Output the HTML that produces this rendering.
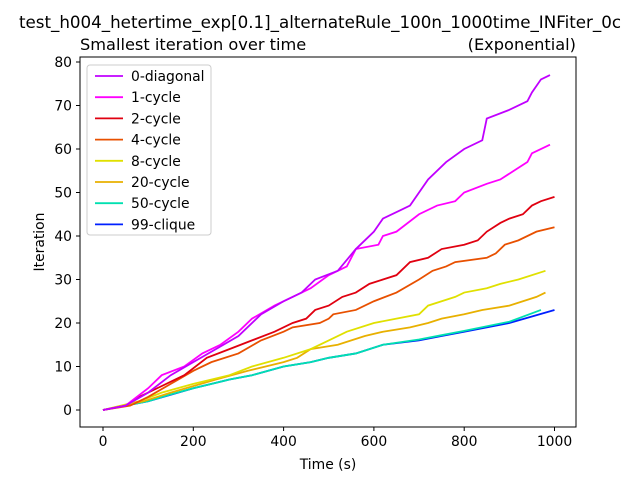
<!DOCTYPE html>
<html><head><meta charset="utf-8"><style>body{margin:0;background:#fff}svg{font-family:"DejaVu Sans","Liberation Sans",sans-serif}</style></head>
<body>
<svg id="chart" width="640" height="480" xmlns="http://www.w3.org/2000/svg">
<rect width="640" height="480" fill="#fff"/>
<text x="320" y="28" font-size="16.7" text-anchor="middle">test_h004_hetertime_exp[0.1]_alternateRule_100n_1000time_INFiter_0c</text>
<text x="80" y="50" font-size="16.2">Smallest iteration over time</text>
<text x="576" y="50" font-size="16.2" text-anchor="end">(Exponential)</text>
<text x="328" y="469" font-size="13.9" text-anchor="middle">Time (s)</text>
<text x="44" y="242" font-size="13.9" text-anchor="middle" transform="rotate(-90 44 242)">Iteration</text>
<g id="ticks"></g>
<g id="series"></g>
<rect x="80" y="57" width="496" height="370" fill="none" stroke="#000" stroke-width="1"/>
<g id="legend"></g>
</svg>
<script>
const xTicks=[0,200,400,600,800,1000];
const yTicks=[0,10,20,30,40,50,60,70,80];
const seriesNames=["0-diagonal","1-cycle","2-cycle","4-cycle","8-cycle","20-cycle","50-cycle","99-clique"];
const seriesColors=["#c000ff","#ff00ff","#e00010","#e85000","#e0e000","#e8b000","#00e0b0","#0020ff"];
const s0=[[0,0],[50,1],[100,4],[150,8],[200,11],[250,14],[300,17],[350,22],[400,25],[440,27],[470,30],[520,32],[560,37],[600,41],[620,44],[660,46],[680,47],[700,50],[720,53],[760,57],[800,60],[840,62],[850,67],[900,69],[940,71],[950,73],[970,76],[990,77]];
const s1=[[0,0],[50,1],[100,5],[130,8],[180,10],[220,13],[260,15],[300,18],[330,21],[380,24],[420,26],[460,28],[500,31],[540,33],[550,35],[560,37],[610,38],[620,40],[650,41],[700,45],[740,47],[780,48],[800,50],[850,52],[880,53],[910,55],[940,57],[950,59],[990,61]];
const s2=[[0,0],[50,1],[80,3],[120,5],[180,8],[230,12],[280,14],[330,16],[380,18],[420,20],[450,21],[470,23],[500,24],[530,26],[560,27],[590,29],[620,30],[650,31],[680,34],[720,35],[750,37],[800,38],[830,39],[850,41],[880,43],[900,44],[930,45],[950,47],[970,48],[1000,49]];
const s3=[[0,0],[60,1],[100,3],[150,6],[200,9],[240,11],[300,13],[350,16],[400,18],[420,19],[480,20],[500,21],[510,22],[560,23],[600,25],[650,27],[700,30],[730,32],[760,33],[780,34],[850,35],[870,36],[890,38],[920,39],[960,41],[1000,42]];
const s4=[[0,0],[80,2],[130,4],[200,6],[280,8],[330,10],[400,12],[460,14],[500,16],[540,18],[600,20],[650,21],[700,22],[720,24],[750,25],[780,26],[800,27],[850,28],[880,29],[920,30],[980,32]];
const s5=[[0,0],[90,2],[150,4],[250,7],[320,9],[400,11],[430,12],[460,14],[520,15],[580,17],[620,18],[680,19],[720,20],[750,21],[800,22],[840,23],[900,24],[960,26],[980,27]];
const s6=[[0,0],[50,1],[100,2],[150,3.6],[200,5],[280,7],[330,8],[400,10],[460,11],[500,12],[560,13],[620,15],[700,16.2],[750,17.2],[800,18.2],[900,20.3],[970,23]];
const s7=[[0,0],[50,1],[100,2],[150,3.5],[200,5],[280,7],[330,8],[400,10],[460,11],[500,12],[560,13],[620,15],[700,16],[750,17],[800,18],[900,20],[1000,23]];
const allSeries=[s0,s1,s2,s3,s4,s5,s6,s7];
const NS="http://www.w3.org/2000/svg";
function X(v){return 103+v*0.4515;}
function Y(v){return 410-v*4.35;}
function mk(t,a,p){const e=document.createElementNS(NS,t);for(const k in a)e.setAttribute(k,a[k]);p.appendChild(e);return e;}
const tg=document.getElementById('ticks');
xTicks.forEach(v=>{const l=mk('line',{x1:X(v),x2:X(v),y1:427,y2:431,stroke:'#000'},tg);


const t=mk('text',{x:X(v),y:446,'font-size':13.9,'text-anchor':'middle'},tg);t.textContent=v;

});
yTicks.forEach(v=>{const l=mk('line',{x1:76,x2:80,y1:Y(v),y2:Y(v),stroke:'#000'},tg);


const t=mk('text',{x:72,y:Y(v)+5,'font-size':13.9,'text-anchor':'end'},tg);t.textContent=v;

});
const sg=document.getElementById('series');
for(let i=allSeries.length-1;i>=0;i--){const p=mk('polyline',{points:allSeries[i].map(d=>X(d[0])+','+Y(d[1])).join(' '),fill:'none',stroke:seriesColors[i],'stroke-width':1.8},sg);

}
const lg=document.getElementById('legend');
const box=mk('rect',{x:87,y:65,width:124,height:170,rx:3,fill:'#fff','fill-opacity':0.8,stroke:'#ccc'},lg);


seriesNames.forEach((n,i)=>{const y=76+i*21.2;
const l=mk('line',{x1:95,x2:123,y1:y,y2:y,stroke:seriesColors[i],'stroke-width':1.8},lg);


const t=mk('text',{x:131,y:y+5,'font-size':13.9},lg);t.textContent=n;

});
</script>
</body></html>
